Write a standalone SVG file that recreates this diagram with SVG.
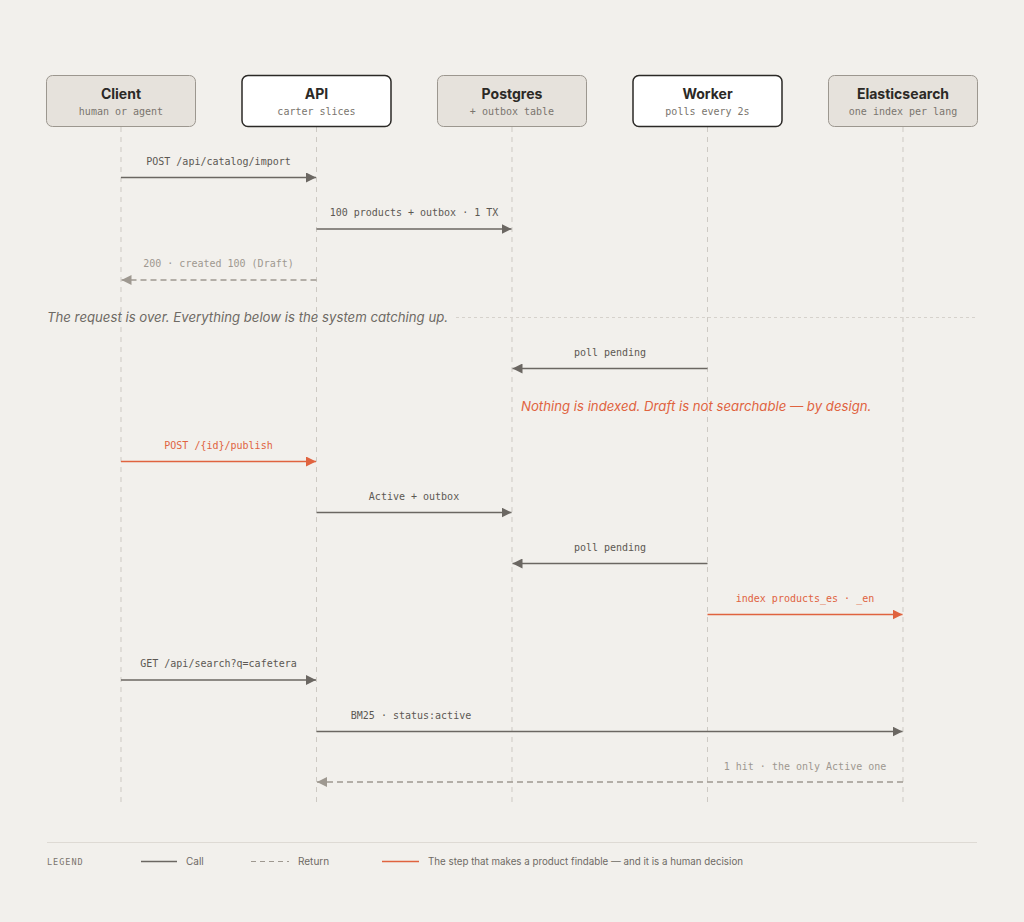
<svg xmlns="http://www.w3.org/2000/svg" width="1024" height="922" viewBox="0 0 1024 922">
<defs>
<style>
.bg{fill:#f2f0ec}
.box{fill:#e6e2dc;stroke:#9c978f;stroke-width:1}
.boxw{fill:#ffffff;stroke:#2b2926;stroke-width:1.5}
.title{font-family:Inter,"Liberation Sans",sans-serif;font-weight:700;font-size:14px;fill:#2b2926;text-anchor:middle}
.sub{font-family:"DejaVu Sans Mono","Liberation Mono",monospace;font-size:10px;fill:#7a756e;text-anchor:middle}
.life{stroke:#cdc9c3;stroke-width:1;stroke-dasharray:5 5;fill:none}
.lbl{font-family:"DejaVu Sans Mono","Liberation Mono",monospace;font-size:10px;fill:#5c5853;text-anchor:middle}
.lblr{fill:#9e9890}
.lblo{fill:#e0633f}
.call{stroke:#6b6762;stroke-width:1.5;fill:none}
.ret{stroke:#9e9890;stroke-width:1.5;fill:none;stroke-dasharray:6 4}
.hot{stroke:#e0633f;stroke-width:1.5;fill:none}
.note{font-family:Inter,"Liberation Sans",sans-serif;font-style:italic;font-size:13.2px}
.leg{font-family:Inter,"Liberation Sans",sans-serif;font-size:10px;fill:#6e6a64}
</style>
<marker id="ah" viewBox="0 0 10 10" refX="10" refY="5" markerWidth="10" markerHeight="10" markerUnits="userSpaceOnUse" orient="auto"><path d="M0,0 L10,5 L0,10 z" fill="#6b6762"/></marker>
<marker id="ahr" viewBox="0 0 10 10" refX="10" refY="5" markerWidth="10" markerHeight="10" markerUnits="userSpaceOnUse" orient="auto"><path d="M0,0 L10,5 L0,10 z" fill="#9e9890"/></marker>
<marker id="aho" viewBox="0 0 10 10" refX="10" refY="5" markerWidth="10" markerHeight="10" markerUnits="userSpaceOnUse" orient="auto"><path d="M0,0 L10,5 L0,10 z" fill="#e0633f"/></marker>
</defs>
<rect class="bg" x="0" y="0" width="1024" height="922"/>

<g id="lifelines">
<line class="life" x1="121" y1="127" x2="121" y2="802"/>
<line class="life" x1="316.5" y1="127" x2="316.5" y2="802"/>
<line class="life" x1="512" y1="127" x2="512" y2="802"/>
<line class="life" x1="707.5" y1="127" x2="707.5" y2="802"/>
<line class="life" x1="903" y1="127" x2="903" y2="802"/>
</g>

<g id="client">
<rect class="box" x="46.5" y="75.5" width="149" height="51" rx="6"/>
<text class="title" x="121" y="99">Client</text>
<text class="sub" x="121" y="115">human or agent</text>
</g>
<g id="api">
<rect class="boxw" x="242" y="75.5" width="149" height="51" rx="6"/>
<text class="title" x="316.5" y="99">API</text>
<text class="sub" x="316.5" y="115">carter slices</text>
</g>
<g id="postgres">
<rect class="box" x="437.5" y="75.5" width="149" height="51" rx="6"/>
<text class="title" x="512" y="99">Postgres</text>
<text class="sub" x="512" y="115">+ outbox table</text>
</g>
<g id="worker">
<rect class="boxw" x="633" y="75.5" width="149" height="51" rx="6"/>
<text class="title" x="707.5" y="99">Worker</text>
<text class="sub" x="707.5" y="115">polls every 2s</text>
</g>
<g id="elasticsearch">
<rect class="box" x="828.5" y="75.5" width="149" height="51" rx="6"/>
<text class="title" x="903" y="99">Elasticsearch</text>
<text class="sub" x="903" y="115">one index per lang</text>
</g>

<g id="connectors">
<line class="call" x1="121" y1="177.5" x2="316" y2="177.5" marker-end="url(#ah)"/>
<text class="lbl" x="218.5" y="165">POST /api/catalog/import</text>

<line class="call" x1="316.5" y1="229" x2="511.5" y2="229" marker-end="url(#ah)"/>
<text class="lbl" x="414" y="216">100 products + outbox · 1 TX</text>

<line class="ret" x1="316.5" y1="280" x2="121.5" y2="280" marker-end="url(#ahr)"/>
<text class="lbl lblr" x="218.5" y="267">200 · created 100 (Draft)</text>

<line class="call" x1="707.5" y1="368.5" x2="512.5" y2="368.5" marker-end="url(#ah)"/>
<text class="lbl" x="610" y="356">poll pending</text>

<line class="hot" x1="121" y1="461.5" x2="316" y2="461.5" marker-end="url(#aho)"/>
<text class="lbl lblo" x="218.5" y="449">POST /{id}/publish</text>

<line class="call" x1="316.5" y1="512.5" x2="511.5" y2="512.5" marker-end="url(#ah)"/>
<text class="lbl" x="414" y="500">Active + outbox</text>

<line class="call" x1="707.5" y1="563.5" x2="512.5" y2="563.5" marker-end="url(#ah)"/>
<text class="lbl" x="610" y="551">poll pending</text>

<line class="hot" x1="707.5" y1="614.5" x2="902.5" y2="614.5" marker-end="url(#aho)"/>
<text class="lbl lblo" x="805" y="602">index products_es · _en</text>

<line class="call" x1="121" y1="680" x2="316" y2="680" marker-end="url(#ah)"/>
<text class="lbl" x="218.5" y="667">GET /api/search?q=cafetera</text>

<line class="call" x1="316.5" y1="731.5" x2="902.5" y2="731.5" marker-end="url(#ah)"/>
<text class="lbl" x="411" y="719">BM25 · status:active</text>

<line class="ret" x1="903" y1="782" x2="317" y2="782" marker-end="url(#ahr)"/>
<text class="lbl lblr" x="805" y="770">1 hit · the only Active one</text>
</g>

<g id="separator">
<text class="note" x="47" y="322" fill="#6e6a64">The request is over. Everything below is the system catching up.</text>
<line x1="456" y1="317.5" x2="977" y2="317.5" stroke="#d6d2cc" stroke-width="1" stroke-dasharray="3 3"/>
</g>

<g id="note">
<text class="note" x="521" y="411" fill="#e0633f">Nothing is indexed. Draft is not searchable — by design.</text>
</g>

<g id="legend">
<line x1="47" y1="842.5" x2="977" y2="842.5" stroke="#dedad4" stroke-width="1"/>
<text x="47" y="865" font-family="'DejaVu Sans Mono','Liberation Mono',monospace" font-size="8.5" letter-spacing="1" fill="#7a756e">LEGEND</text>
<line x1="141" y1="861.5" x2="177" y2="861.5" class="call"/>
<text class="leg" x="186" y="865">Call</text>
<line x1="251" y1="861.5" x2="289" y2="861.5" stroke="#9e9890" stroke-width="1.2" stroke-dasharray="5 4"/>
<text class="leg" x="298" y="865">Return</text>
<line x1="382" y1="861.5" x2="419" y2="861.5" class="hot"/>
<text class="leg" x="428" y="865" textLength="315" lengthAdjust="spacingAndGlyphs">The step that makes a product findable — and it is a human decision</text>
</g>
</svg>
